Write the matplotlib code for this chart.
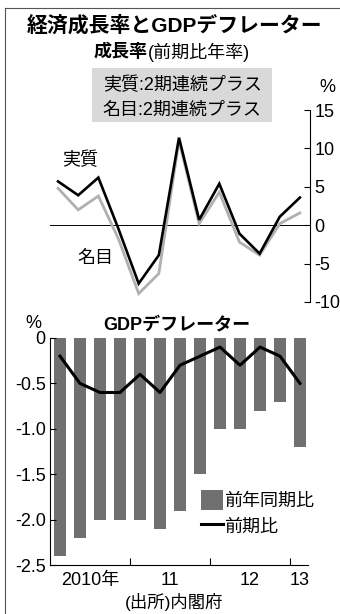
import numpy as np
import matplotlib.pyplot as plt
from matplotlib.patches import Rectangle
from matplotlib.lines import Line2D

plt.rcParams['font.family'] = ['Liberation Sans', 'Noto Sans CJK JP', 'DejaVu Sans']
plt.rcParams['axes.unicode_minus'] = False

# Data: 2010 Q1 .. 2013 Q1
quarters = ['2010Q1', '2010Q2', '2010Q3', '2010Q4', '2011Q1', '2011Q2', '2011Q3',
            '2011Q4', '2012Q1', '2012Q2', '2012Q3', '2012Q4', '2013Q1']
real_growth = [5.7, 3.9, 6.2, -0.5, -7.6, -3.9, 11.4, 0.7, 5.4, -1.1, -3.7, 1.1, 3.6]
nominal_growth = [4.8, 2.0, 3.8, -1.8, -8.9, -6.3, 11.0, 0.2, 4.3, -2.2, -3.9, 0.2, 1.6]
deflator_yoy = [-2.4, -2.2, -2.0, -2.0, -2.0, -2.1, -1.9, -1.5, -1.0, -1.0, -0.8, -0.7, -1.2]
deflator_qoq = [-0.2, -0.5, -0.6, -0.6, -0.4, -0.6, -0.3, -0.2, -0.1, -0.3, -0.1, -0.2, -0.5]

year_labels = ['2010年', '11', '12', '13']
year_label_pos = [1.5, 5.5, 9.5, 12]
year_tick_pos = [3.5, 7.5, 11.5]

x = np.arange(len(quarters))

fig = plt.figure(figsize=(3.4, 6.14), dpi=100)

# frame lines (left and top)
fig.add_artist(Line2D([5/340, 5/340], [0, 1 - 8/614], color='#555555', lw=0.8))
fig.add_artist(Line2D([5/340, 1], [1 - 8/614, 1 - 8/614], color='#555555', lw=0.8))

# titles
fig.text(175/340, 1 - 25/614, '経済成長率とGDPデフレーター', ha='center', va='center',
         fontsize=15, fontweight='bold')
fig.text(148/340, 1 - 52/614, '成長率', ha='right', va='center', fontsize=13, fontweight='bold')
fig.text(148/340, 1 - 52/614, '(前期比年率)', ha='left', va='center', fontsize=13)

# ---- growth rate chart ----
ax1 = fig.add_axes([50/340, 312/614, 260/340, 192/614])
ax1.set_xlim(-0.4, 12.5)
ax1.set_ylim(-10, 15)
ax1.axhline(0, color='black', lw=0.7)
ax1.plot(x, nominal_growth, color='#b0b0b0', lw=2.0, solid_joinstyle='miter')
ax1.plot(x, real_growth, color='black', lw=1.9, solid_joinstyle='miter')
for s in ['top', 'left', 'bottom']:
    ax1.spines[s].set_visible(False)
ax1.spines['right'].set_linewidth(0.8)
ax1.yaxis.tick_right()
ax1.set_yticks([15, 10, 5, 0, -5, -10])
ax1.set_yticklabels(['15', '10', '5', '0', '-5', '-10'])
ax1.tick_params(axis='y', direction='in', length=4, width=0.8, labelsize=13, pad=3)
ax1.set_xticks([])
ax1.patch.set_alpha(0)
ax1.text(327/340, 1 - 88/614, '%', transform=fig.transFigure, ha='center', va='center', fontsize=13)
ax1.text(80/340, 1 - 160/614, '実質', transform=fig.transFigure, ha='center', va='center', fontsize=13)
ax1.text(95/340, 1 - 258/614, '名目', transform=fig.transFigure, ha='center', va='center', fontsize=13)

# highlighted box
fig.add_artist(Rectangle((92/340, 1 - 122/614), 180/340, 54/614, transform=fig.transFigure,
                         facecolor='#d9d9d9', edgecolor='none', zorder=0))
fig.text(182/340, 1 - 85/614, '実質:2期連続プラス', ha='center', va='center', fontsize=13)
fig.text(182/340, 1 - 110/614, '名目:2期連続プラス', ha='center', va='center', fontsize=13)

# ---- deflator chart ----
ax2 = fig.add_axes([50/340, 49/614, 258/340, 227/614])
ax2.set_xlim(-0.5, 12.4)
ax2.set_ylim(-2.5, 0)
bars = ax2.bar(x, deflator_yoy, width=0.58, color='#707070', label='前年同期比')
ln, = ax2.plot(x, deflator_qoq, color='black', lw=2.2, label='前期比')
for s in ['top', 'right']:
    ax2.spines[s].set_visible(False)
ax2.spines['left'].set_linewidth(0.8)
ax2.spines['bottom'].set_linewidth(0.8)
ax2.set_yticks([0, -0.5, -1.0, -1.5, -2.0, -2.5])
ax2.set_yticklabels(['0', '-0.5', '-1.0', '-1.5', '-2.0', '-2.5'])
ax2.tick_params(axis='y', direction='in', length=4, width=0.8, labelsize=13, pad=3)
ax2.set_xticks(year_tick_pos)
ax2.set_xticklabels([])
ax2.tick_params(axis='x', direction='in', length=5, width=0.8)
for lab, p in zip(year_labels, year_label_pos):
    ax2.text(p, -0.03, lab, transform=ax2.get_xaxis_transform(), ha='center', va='top', fontsize=13)
ax2.text(33/340, 1 - 323/614, '%', transform=fig.transFigure, ha='center', va='center', fontsize=13)
ax2.text(177/340, 1 - 325/614, 'GDPデフレーター', transform=fig.transFigure, ha='center', va='center',
         fontsize=13, fontweight='bold')
ax2.legend([bars, ln], ['前年同期比', '前期比'], loc='lower right', bbox_to_anchor=(1.06, 0.09),
           frameon=False, fontsize=13, handlelength=1.2, handleheight=1.3, handletextpad=0.1,
           labelspacing=0.3, borderpad=0)

fig.text(174/340, 1 - 602/614, '(出所)内閣府', ha='center', va='center', fontsize=12.5)

fig.savefig('out.png', dpi=100)
